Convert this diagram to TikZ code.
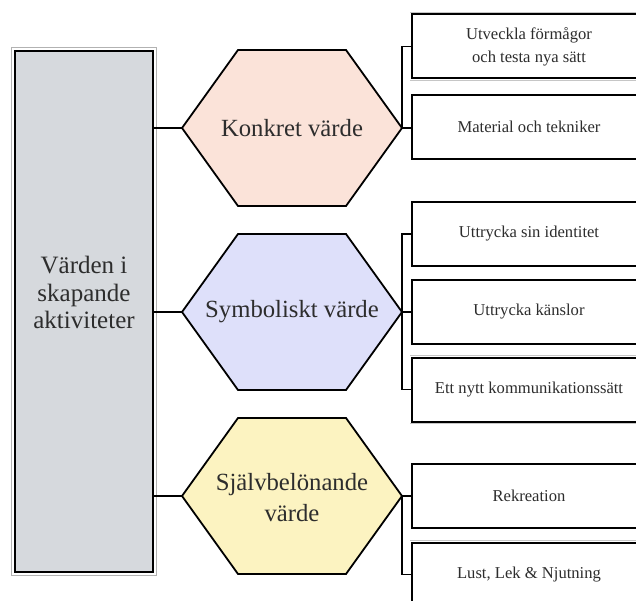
\documentclass[tikz,border=0pt]{standalone}
\usepackage{fontspec}
\setmainfont{Liberation Serif}

\definecolor{konkretfill}{RGB}{251,227,217}
\definecolor{symbolfill}{RGB}{222,224,250}
\definecolor{sjalvfill}{RGB}{252,243,193}
\definecolor{valuefill}{RGB}{214,217,221}
\definecolor{textgray}{RGB}{45,45,45}

\tikzset{
  valuebox/.style={rectangle, fill=valuefill, draw=black, line width=2.6pt,
    minimum width=138pt, minimum height=521pt,
    preaction={draw=gray!60, line width=7.6pt},
    preaction={draw=white, line width=5.4pt}},
  valuetext/.style={align=center, text=textgray, font=\fontsize{25}{27.5}\selectfont},
  hexline/.style={draw=black, line width=1.8pt, line join=miter},
  hextext/.style={align=center, text=textgray, font=\fontsize{24.7}{31}\selectfont},
  itembox/.style={rectangle, draw=black, line width=2pt, fill=white,
    minimum width=234pt, minimum height=64pt, align=center, text=textgray,
    font=\fontsize{16.6}{23}\selectfont,
    preaction={draw=gray!45, line width=4.6pt},
    preaction={draw=white, line width=3.2pt}},
  link/.style={draw=black, line width=1.8pt}
}

\begin{document}
\begin{tikzpicture}[x=1pt, y=-1pt]
  \useasboundingbox (0,0) rectangle (636,601);
  \clip (0,0) rectangle (636,601);

  % vänstra rutan
  \node[valuebox] (values) at (84,311.5) {};
  \node[valuetext] (valueslabel) at ([yshift=19pt]values.center) {Värden i\\skapande\\aktiviteter};

  % sexhörningar
  \foreach \n/\y/\c in {A/128/konkretfill, B/312/symbolfill, C/496/sjalvfill}
    \draw[hexline, fill=\c] (182,\y) coordinate (hex\n-w) -- ++(56,-78) -- ++(108,0)
      -- ++(56,78) coordinate (hex\n-e) -- ++(-56,78) -- ++(-108,0) -- cycle;
  \node[hextext] (hexA) at (292,128) {Konkret värde};
  \node[hextext] (hexB) at (292,312) {Symboliskt värde};
  \node[hextext] (hexC) at (292,498) {Självbelönande\\värde};

  % rutor till höger
  \node[itembox] (itemA1) at (529,46.5) {Utveckla förmågor\\och testa nya sätt};
  \node[itembox] (itemA2) at (529,127) {Material och tekniker};
  \node[itembox] (itemB1) at (529,234) {Uttrycka sin identitet};
  \node[itembox] (itemB2) at (529,312) {Uttrycka känslor};
  \node[itembox] (itemB3) at (529,389.5) {Ett nytt kommunikationssätt};
  \node[itembox] (itemC1) at (529,496) {Rekreation};
  \node[itembox] (itemC2) at (529,574.5) {Lust, Lek \& Njutning};

  % linjer
  \draw[link] (values.east |- hexA-w) -- (hexA-w);
  \draw[link] (values.east |- hexB-w) -- (hexB-w);
  \draw[link] (values.east |- hexC-w) -- (hexC-w);

  \draw[link] (itemA1.west) -| (hexA-e);
  \draw[link] (hexA-e) -- (itemA2.west |- hexA-e);
  \draw[link] (itemB1.west) -| (hexB-e);
  \draw[link] (itemB3.west) -| (hexB-e);
  \draw[link] (hexB-e) -- (itemB2.west);
  \draw[link] (hexC-e) -- (itemC1.west);
  \draw[link] (itemC2.west) -| (hexC-e);
\end{tikzpicture}
\end{document}
